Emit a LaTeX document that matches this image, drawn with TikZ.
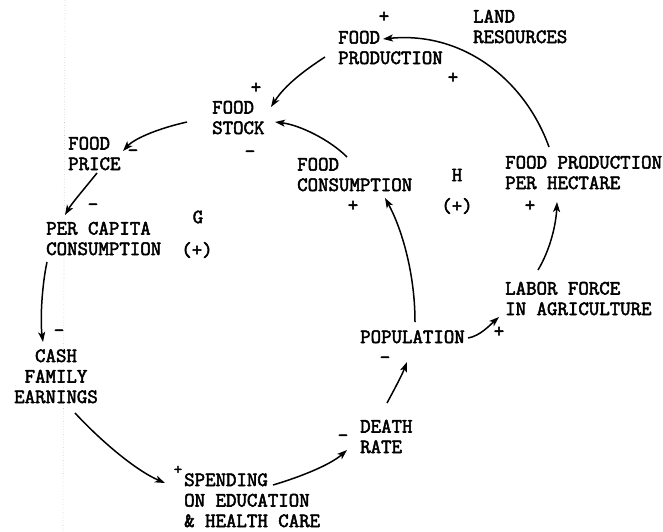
\documentclass[tikz,border=0pt]{standalone}
\usepackage{fontspec}
\newfontfamily\tw{Latin Modern Mono}[FakeBold=2.6]
\usetikzlibrary{arrows.meta}
\begin{document}
\begin{tikzpicture}[x=1pt,y=1pt,
  lbl/.style={anchor=base west,inner sep=0pt,align=left,font=\fontsize{20.3}{20.5}\selectfont\tw},
  sgn/.style={anchor=center,inner sep=0pt,font=\fontsize{20.3}{20}\selectfont\tw},
  link/.style={line width=1.5pt,-{Stealth[length=10pt,width=7pt,inset=2.5pt]}}]
\useasboundingbox (0,0) rectangle (663,-531);
% fold line of the scan
\draw[gray!45,dotted,line width=0.6pt] (65,0) -- (63,-531);
% variables (anchored at the baseline of their last line)
\node[lbl] (fp) at (338,-64) {FOOD\\PRODUCTION};
\node[lbl] (land) at (473,-43) {LAND\\RESOURCES};
\node[lbl] (fs) at (212,-134) {FOOD\\STOCK};
\node[lbl] (fc) at (297,-191) {FOOD\\CONSUMPTION};
\node[lbl] (fph) at (505,-189) {FOOD PRODUCTION\\PER HECTARE};
\node[lbl] (lab) at (505,-315) {LABOR FORCE\\IN AGRICULTURE};
\node[lbl] (pop) at (360,-343) {POPULATION};
\node[lbl] (dr) at (360,-453) {DEATH\\RATE};
\node[lbl] (sp) at (184,-527) {SPENDING\\ON EDUCATION\\\& HEALTH CARE};
\node[lbl,anchor=base,align=center] (cash) at (56,-403) {CASH\\FAMILY\\EARNINGS};
\node[lbl] (pc) at (46,-255) {PER CAPITA\\CONSUMPTION};
\node[lbl] (price) at (68,-170) {FOOD\\PRICE};
% loop labels
\node[sgn] (g) at (198,-217) {G};
\node[sgn] (gp) at (197,-250) {(+)};
\node[sgn] (h) at (457,-175) {H};
\node[sgn] (hp) at (457,-206) {(+)};
% polarity signs
\node[sgn] (s1) at (384,-17) {+};
\node[sgn] (s2) at (453,-78) {+};
\node[sgn] (s3) at (256,-88) {+};
\node[sgn] (s4) at (250,-154) {-};
\node[sgn] (s5) at (133,-153) {-};
\node[sgn] (s6) at (93,-207) {-};
\node[sgn] (s7) at (59,-333) {-};
\node[sgn,font=\fontsize{16}{16}\selectfont\tw] (s8) at (178,-470) {+};
\node[sgn] (s9) at (343,-438) {-};
\node[sgn] (s10) at (385,-360) {-};
\node[sgn] (s11) at (499,-332) {+};
\node[sgn] (s12) at (353,-206) {+};
\node[sgn] (s13) at (530,-206) {+};
% connectors
\draw[link] ([shift={(44,42)}]fph.base west) .. controls (525,-80) and (463,-31) .. ([shift={(45,25)}]fp.base west);
\draw[link] ([shift={(-13,7)}]fp.base west) .. controls (305,-70) and (285,-85) .. ([shift={(59,27)}]fs.base west);
\draw[link] ([shift={(50,34)}]fc.base west) .. controls (330,-140) and (300,-125) .. ([shift={(63,12)}]fs.base west);
\draw[link] ([shift={(-25,12)}]fs.base west) .. controls (160,-128) and (135,-138) .. ([shift={(55,19)}]price.base west);
\draw[link] ([shift={(29,-3)}]price.base west) .. controls (85,-188) and (72,-203) .. ([shift={(19,40)}]pc.base west);
\draw[link] ([shift={(1,-7)}]pc.base west) .. controls (42,-285) and (40,-320) .. ([shift={(-13,61)}]cash.base);
\draw[link] ([shift={(19,-10)}]cash.base) .. controls (100,-440) and (135,-470) .. ([shift={(-19,44)}]sp.base west);
\draw[link] ([shift={(89,42)}]sp.base west) .. controls (300,-477) and (330,-465) .. ([shift={(-13,3)}]dr.base west);
\draw[link] ([shift={(27,50)}]dr.base west) .. controls (394,-390) and (402,-375) .. ([shift={(47,-19)}]pop.base west);
\draw[link] ([shift={(55,21)}]pop.base west) .. controls (415,-270) and (400,-225) .. ([shift={(88,-7)}]fc.base west);
\draw[link] ([shift={(108,5)}]pop.base west) .. controls (480,-336) and (490,-325) .. ([shift={(-6,-2)}]lab.base west);
\draw[link] ([shift={(33,45)}]lab.base west) .. controls (550,-250) and (556,-225) .. ([shift={(52,-13)}]fph.base west);
\end{tikzpicture}
\end{document}
